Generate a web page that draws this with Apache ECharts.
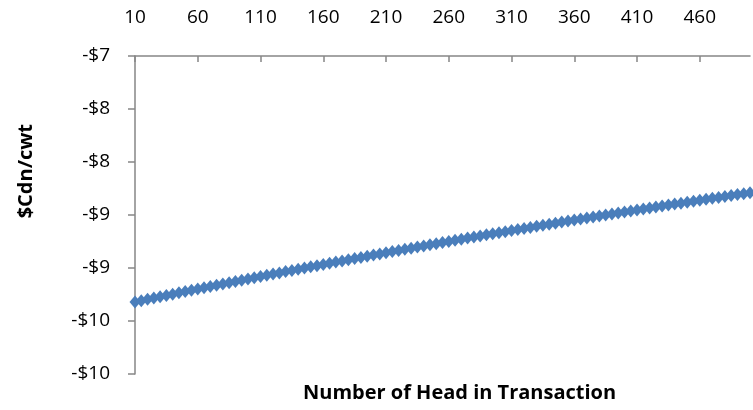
<!DOCTYPE html>
<html>
<head>
<meta charset="utf-8">
<script src="https://cdn.jsdelivr.net/npm/echarts@6/dist/echarts.min.js"></script>
<style>
  html, body { margin: 0; padding: 0; background: #fff; }
  #chart { width: 753px; height: 410px; }
</style>
</head>
<body>
<div id="chart"></div>
<script>
// Number of head in a transaction, every 5 head from 10 to 500
const headCounts = [];
for (let n = 10; n <= 500; n += 5) headCounts.push(String(n));

// $Cdn/cwt for each transaction size
const pricePerCwt = [
  -9.320, -9.308, -9.295, -9.283, -9.271, -9.259, -9.247, -9.234, -9.222, -9.210,
  -9.198, -9.186, -9.175, -9.163, -9.151, -9.139, -9.127, -9.116, -9.104, -9.092,
  -9.081, -9.069, -9.057, -9.046, -9.034, -9.023, -9.012, -9.000, -8.989, -8.978,
  -8.966, -8.955, -8.944, -8.933, -8.922, -8.911, -8.900, -8.889, -8.878, -8.867,
  -8.856, -8.845, -8.834, -8.824, -8.813, -8.802, -8.792, -8.781, -8.771, -8.760,
  -8.750, -8.739, -8.729, -8.718, -8.708, -8.698, -8.687, -8.677, -8.667, -8.657,
  -8.647, -8.637, -8.627, -8.617, -8.607, -8.597, -8.587, -8.577, -8.567, -8.557,
  -8.548, -8.538, -8.528, -8.519, -8.509, -8.499, -8.490, -8.480, -8.471, -8.462,
  -8.452, -8.443, -8.434, -8.424, -8.415, -8.406, -8.397, -8.388, -8.379, -8.370,
  -8.361, -8.352, -8.343, -8.334, -8.325, -8.316, -8.307, -8.299, -8.290
];

// Value-axis ticks from bottom (-10) to top (-7), labels rounded to whole dollars
const yMin = -10, yMax = -7, yStep = 0.5;
const yTickLabels = ['-$10', '-$10', '-$9', '-$9', '-$8', '-$8', '-$7'];

const FONT = 'Open Sans';
const AXIS_GRAY = '#868686';
const chart = echarts.init(document.getElementById('chart'), null, { renderer: 'canvas' });

chart.setOption({
  animation: false,
  backgroundColor: '#ffffff',
  grid: { left: 135, top: 56, right: 3, bottom: 36, containLabel: false, outerBoundsMode: 'none' },
  xAxis: {
    type: 'category',
    position: 'top',
    boundaryGap: false,
    data: headCounts,
    axisLine: { show: true, onZero: false, lineStyle: { color: AXIS_GRAY, width: 1.5 } },
    axisTick: { show: true, inside: true, length: 6, interval: 9, lineStyle: { color: AXIS_GRAY, width: 1.5 } },
    axisLabel: { interval: 9, margin: 29, fontFamily: FONT, fontSize: 19, color: '#000' },
    splitLine: { show: false }
  },
  yAxis: {
    type: 'value',
    min: yMin,
    max: yMax,
    interval: yStep,
    axisLine: { show: true, onZero: false, lineStyle: { color: AXIS_GRAY, width: 1.5 } },
    axisTick: { show: true, inside: false, length: 7, lineStyle: { color: AXIS_GRAY, width: 1.5 } },
    axisLabel: {
      margin: 25, fontFamily: FONT, fontSize: 19, color: '#000',
      formatter: v => yTickLabels[Math.round((v - yMin) / yStep)]
    },
    splitLine: { show: false }
  },
  graphic: [
    {
      type: 'text',
      left: 16,
      top: 124,
      rotation: Math.PI / 2,
      style: {
        text: '$Cdn/cwt',
        font: 'bold 20px "Open Sans"',
        fill: '#000'
      }
    },
    {
      type: 'text',
      left: 303,
      top: 383,
      style: {
        text: 'Number of Head in Transaction',
        font: 'bold 20px "Open Sans"',
        fill: '#000'
      }
    }
  ],
  series: [{
    type: 'line',
    data: pricePerCwt,
    symbol: 'diamond',
    symbolSize: [11, 13],
    showAllSymbol: true,
    lineStyle: { color: '#4a7ebb', width: 3 },
    itemStyle: { color: '#4a7ebb', borderWidth: 0 }
  }]
});
</script>
</body>
</html>
